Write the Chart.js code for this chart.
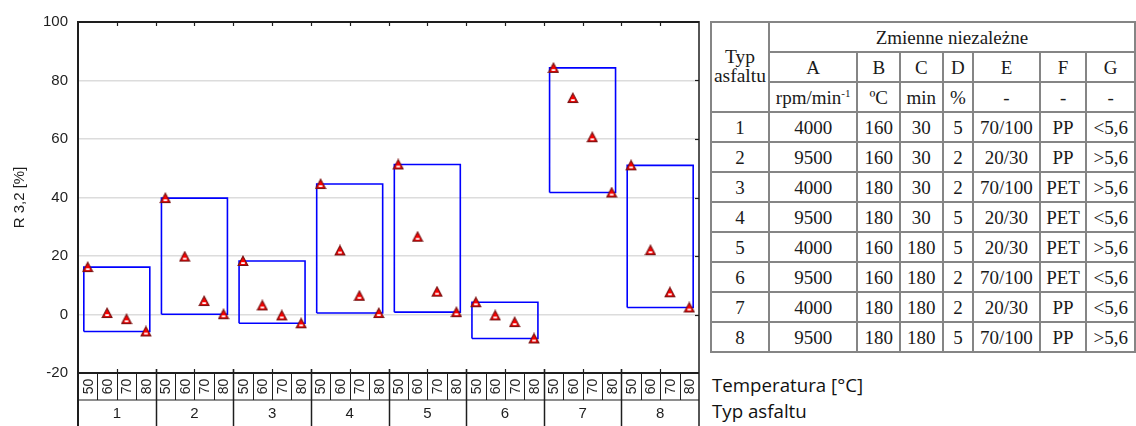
<!DOCTYPE html>
<html>
<head>
<meta charset="utf-8">
<script src="https://cdn.jsdelivr.net/npm/chart.js@4.4.1/dist/chart.umd.min.js"></script>
<style>
    body { margin: 0; background: #fff; width: 1136px; height: 426px; overflow: hidden; position: relative; }
    #plot { position: absolute; left: 0; top: 0; }
    #params { position: absolute; left: 710px; top: 21px; border-collapse: collapse; table-layout: fixed;
        font-family: "Liberation Serif", "Times New Roman", serif; font-size: 19px; color: #1a1a1a; }
    #params td { border: 2px solid #858585; padding: 0; text-align: center; vertical-align: middle; line-height: 1; white-space: nowrap; }
    #params tr { height: 30px; }
    #params td.typ { line-height: 0.95; font-size: 19.5px; }
    #params sup { font-size: 11px; vertical-align: 7px; }
    .note { position: absolute; left: 712px; font-family: "Open Sans", sans-serif; font-size: 18.7px; color: #111; }
</style>
</head>
<body>
<canvas id="plot" width="706" height="426"></canvas>
<table id="params"></table>
<div class="note" style="top: 372px;">Temperatura [°C]</div>
<div class="note" style="top: 398px;">Typ asfaltu</div>

<script>
const temperatures = ['50', '60', '70', '80'];
const asphaltTypes = ['1', '2', '3', '4', '5', '6', '7', '8'];

// R 3,2 [%] for each asphalt type, at 50/60/70/80 °C
const r32Type1 = [16.2, 0.5, -1.6, -5.8];
const r32Type2 = [39.8, 19.8, 4.6, 0.1];
const r32Type3 = [18.3, 3.1, -0.3, -3.0];
const r32Type4 = [44.6, 21.9, 6.4, 0.5];
const r32Type5 = [51.3, 26.6, 7.8, 0.8];
const r32Type6 = [4.2, -0.3, -2.6, -8.2];
const r32Type7 = [84.3, 74.0, 60.6, 41.7];
const r32Type8 = [51.0, 22.0, 7.6, 2.4];
const r32 = [r32Type1, r32Type2, r32Type3, r32Type4, r32Type5, r32Type6, r32Type7, r32Type8];

const yMin = -20;
const yMax = 100;
const yStep = 20;

// independent variables table
const headerLetters = ['A', 'B', 'C', 'D', 'E', 'F', 'G'];
const headerUnits = ['rpm/min<sup>-1</sup>', 'ºC', 'min', '%', '-', '-', '-'];
const colA = ['4000', '9500', '4000', '9500', '4000', '9500', '4000', '9500'];
const colB = ['160', '160', '180', '180', '160', '160', '180', '180'];
const colC = ['30', '30', '30', '30', '180', '180', '180', '180'];
const colD = ['5', '2', '2', '5', '5', '2', '2', '5'];
const colE = ['70/100', '20/30', '70/100', '20/30', '20/30', '70/100', '20/30', '70/100'];
const colF = ['PP', 'PP', 'PET', 'PET', 'PET', 'PET', 'PP', 'PP'];
const colG = ['<5,6', '>5,6', '>5,6', '<5,6', '>5,6', '<5,6', '<5,6', '>5,6'];
const colWidths = [58, 89, 43, 43, 31, 67, 47, 49];

function buildTable() {
    const table = document.getElementById('params');
    let html = '<colgroup>' + colWidths.map(w => `<col style="width:${w}px">`).join('') + '</colgroup>';
    html += '<tr><td class="typ" rowspan="3">Typ<br>asfaltu</td><td colspan="7">Zmienne niezależne</td></tr>';
    html += '<tr>' + headerLetters.map(l => `<td>${l}</td>`).join('') + '</tr>';
    html += '<tr>' + headerUnits.map(u => `<td>${u}</td>`).join('') + '</tr>';
    asphaltTypes.forEach((t, i) => {
        const cells = [t, colA[i], colB[i], colC[i], colD[i], colE[i], colF[i], colG[i]];
        html += '<tr>' + cells.map(c => `<td>${c.replace('<', '&lt;').replace('>', '&gt;')}</td>`).join('') + '</tr>';
    });
    table.innerHTML = html;
}

function makeMarker() {
    const c = document.createElement('canvas');
    c.width = 12;
    c.height = 12;
    const g = c.getContext('2d');
    g.beginPath();
    g.moveTo(6, 1.2);
    g.lineTo(10.8, 10.3);
    g.lineTo(1.2, 10.3);
    g.closePath();
    g.fillStyle = '#ff0000';
    g.fill();
    g.fillStyle = '#ffffff';
    g.fillRect(4.2, 7.2, 3.6, 1.8);
    g.strokeStyle = '#7a1212';
    g.lineWidth = 1.2;
    g.stroke();
    return c;
}

// one point per temperature, placed at the middle of its slot
const points = [];
r32.forEach((vals, g) => {
    vals.forEach((v, k) => points.push({ x: g * temperatures.length + k + 0.5, y: v }));
});

// min-max box around each asphalt type
const boxes = [];
r32.forEach((vals, g) => {
    const x0 = g * temperatures.length + 0.3;
    const x1 = g * temperatures.length + temperatures.length - 0.3;
    const lo = Math.min(...vals);
    const hi = Math.max(...vals);
    boxes.push({ x: x0, y: lo }, { x: x0, y: hi }, { x: x1, y: hi }, { x: x1, y: lo }, { x: x0, y: lo }, { x: x1, y: null });
});

const frame = {
    id: 'frame',
    afterDraw(chart) {
        const { ctx, chartArea: a, scales: { x, y } } = chart;
        const nCat = asphaltTypes.length * temperatures.length;
        const rowMid = a.bottom + 27;
        const bottom = chart.height;
        ctx.save();
        ctx.strokeStyle = '#1e1e1e';
        ctx.lineCap = 'butt';

        const line = (x0, y0, x1, y1, w) => {
            ctx.lineWidth = w;
            ctx.beginPath();
            ctx.moveTo(x0, y0);
            ctx.lineTo(x1, y1);
            ctx.stroke();
        };

        // outer frame
        line(a.left, a.top, a.right, a.top, 2);
        line(a.left, a.top - 1, a.left, bottom, 2);
        line(a.right, a.top - 1, a.right, bottom, 1.5);
        line(a.left, a.bottom, a.right, a.bottom, 2);
        line(a.left, rowMid, a.right, rowMid, 1.2);

        // ticks along top and bottom, every two slots
        for (let i = 2; i < nCat; i += 2) {
            const px = Math.round(x.getPixelForValue(i)) + 0.5;
            line(px, a.top, px, a.top + 4, 1.2);
            line(px, a.bottom - 4, px, a.bottom, 1.2);
        }
        // ticks on the right side
        for (let v = yMin + yStep; v < yMax; v += yStep) {
            const py = Math.round(y.getPixelForValue(v)) + 0.5;
            line(a.right - 4, py, a.right, py, 1.2);
        }

        // slot separators and group separators below the axis
        for (let i = 1; i < nCat; i++) {
            const px = Math.round(x.getPixelForValue(i)) + 0.5;
            if (i % temperatures.length === 0) {
                line(px, a.bottom - 4, px, bottom, 1.5);
            } else {
                line(px, a.bottom, px, rowMid, 1);
            }
        }

        ctx.fillStyle = '#1e1e1e';
        ctx.textAlign = 'center';
        ctx.textBaseline = 'middle';
        ctx.font = '14px "Liberation Sans", Arial, sans-serif';
        for (let i = 0; i < nCat; i++) {
            const px = x.getPixelForValue(i + 0.5);
            ctx.save();
            ctx.translate(px + 1, (a.bottom + rowMid) / 2);
            ctx.rotate(-Math.PI / 2);
            ctx.fillText(temperatures[i % temperatures.length], 0, 0);
            ctx.restore();
        }
        ctx.font = '15px "Liberation Sans", Arial, sans-serif';
        asphaltTypes.forEach((t, g) => {
            const px = x.getPixelForValue(g * temperatures.length + temperatures.length / 2);
            ctx.fillText(t, px, (rowMid + bottom) / 2 + 1);
        });
        ctx.restore();
    }
};

buildTable();

new Chart(document.getElementById('plot'), {
    type: 'scatter',
    data: {
        datasets: [
            {
                label: 'R 3,2',
                data: points,
                pointStyle: makeMarker(),
                pointRadius: 6,
                showLine: false
            },
            {
                type: 'line',
                label: 'zakres',
                data: boxes,
                borderColor: '#0000ff',
                borderWidth: 1.6,
                pointRadius: 0,
                tension: 0,
                spanGaps: false,
                fill: false
            }
        ]
    },
    plugins: [frame],
    options: {
        responsive: false,
        animation: false,
        devicePixelRatio: 1,
        layout: { padding: { top: 22, bottom: 53, right: 4, left: 0 } },
        plugins: { legend: { display: false }, tooltip: { enabled: false } },
        scales: {
            x: {
                type: 'linear',
                min: 0,
                max: asphaltTypes.length * temperatures.length,
                display: false
            },
            y: {
                min: yMin,
                max: yMax,
                afterFit(scale) { scale.width = 78; },
                ticks: {
                    stepSize: yStep,
                    padding: 10,
                    color: '#1e1e1e',
                    font: { family: '"Liberation Sans", Arial, sans-serif', size: 15 }
                },
                grid: { color: '#dcdcdc', lineWidth: 1.5, drawTicks: false },
                border: { display: false },
                title: {
                    display: true,
                    text: 'R 3,2 [%]',
                    color: '#1e1e1e',
                    padding: { top: 11 },
                    font: { family: '"Liberation Sans", Arial, sans-serif', size: 15 }
                }
            }
        }
    }
});
</script>
</body>
</html>
